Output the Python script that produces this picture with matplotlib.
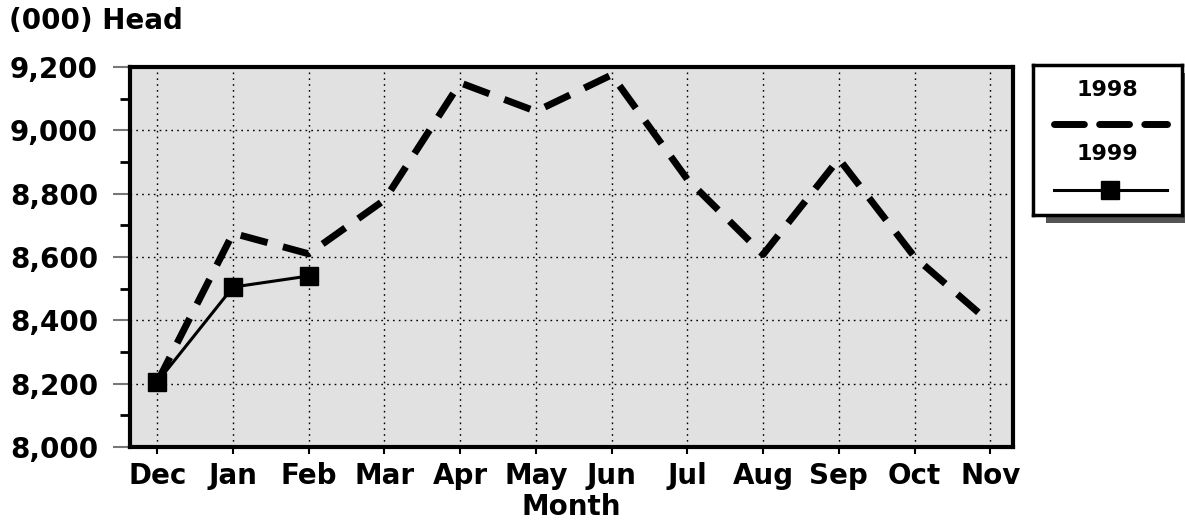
import numpy as np
import matplotlib
matplotlib.use("Agg")
import matplotlib.pyplot as plt
from matplotlib.ticker import MultipleLocator, FuncFormatter

# data
months = ['Dec', 'Jan', 'Feb', 'Mar', 'Apr', 'May', 'Jun', 'Jul', 'Aug', 'Sep', 'Oct', 'Nov']
head_1998 = [8205, 8675, 8610, 8780, 9150, 9060, 9175, 8845, 8608, 8910, 8600, 8392]
months_1999 = ['Dec', 'Jan', 'Feb']
head_1999 = [8205, 8505, 8540]

plt.rcParams['font.family'] = 'DejaVu Sans'
plt.rcParams['font.weight'] = 'bold'

fig = plt.figure(figsize=(11.85, 5.27), dpi=100)
ax = fig.add_axes([0.1097, 0.1518, 0.7452, 0.7211])
ax.set_facecolor('#e1e1e1')

x = np.arange(len(months))
x99 = [months.index(m) for m in months_1999]

ax.plot(x, head_1998, color='black', lw=5, dashes=(4.0, 2.3), zorder=3)
ax.plot(x99, head_1999, color='black', lw=2.2, marker='s', markersize=13, zorder=4)

ax.set_xlim(-0.36, 11.3)
ax.set_ylim(8000, 9200)
ax.set_xticks(x)
ax.set_xticklabels(months)
ax.yaxis.set_major_locator(MultipleLocator(200))
ax.yaxis.set_minor_locator(MultipleLocator(100))
ax.yaxis.set_major_formatter(FuncFormatter(lambda v, p: '{:,.0f}'.format(v)))

ax.grid(True, which='major', color='black', linestyle=(0, (1.2, 3)), lw=1)
ax.set_axisbelow(True)

for s in ax.spines.values():
    s.set_linewidth(3)
ax.tick_params(axis='y', which='major', length=12, width=1.5, color='#777777',
               labelsize=20, pad=11)
ax.tick_params(axis='y', which='minor', length=7, width=2, color='black')
ax.tick_params(axis='x', which='major', length=5, width=1.5, color='black',
               labelsize=20, pad=6)

ax.set_xlabel('Month', fontsize=20, fontweight='bold', labelpad=2)
fig.text(0.008, 0.960, '(000) Head', fontsize=20, fontweight='bold', va='center', ha='left')

# legend box drawn by hand: labels above samples, with a shadow
sh = fig.add_axes([1046 / 1185, 1 - 223 / 527, 150 / 1185, 150 / 527])
sh.set_facecolor('#555555')
sh.set_xticks([]); sh.set_yticks([])
for s in sh.spines.values():
    s.set_visible(False)

lg = fig.add_axes([1033 / 1185, 1 - 215 / 527, 149 / 1185, 150 / 527])
lg.set_facecolor('white')
lg.set_xlim(0, 1); lg.set_ylim(0, 1)
lg.set_xticks([]); lg.set_yticks([])
for s in lg.spines.values():
    s.set_linewidth(2.5)
lg.text(0.5, 0.83, '1998', ha='center', va='center', fontsize=16, fontweight='bold')
lg.plot([0.14, 0.9], [0.61, 0.61], color='black', lw=5, dashes=(4.3, 2.2),
        solid_capstyle='round', dash_capstyle='round')
lg.text(0.5, 0.41, '1999', ha='center', va='center', fontsize=16, fontweight='bold')
lg.plot([0.14, 0.9], [0.17, 0.17], color='black', lw=2.2)
lg.plot([0.52], [0.17], color='black', marker='s', markersize=13)

fig.savefig('out.png', dpi=100)
